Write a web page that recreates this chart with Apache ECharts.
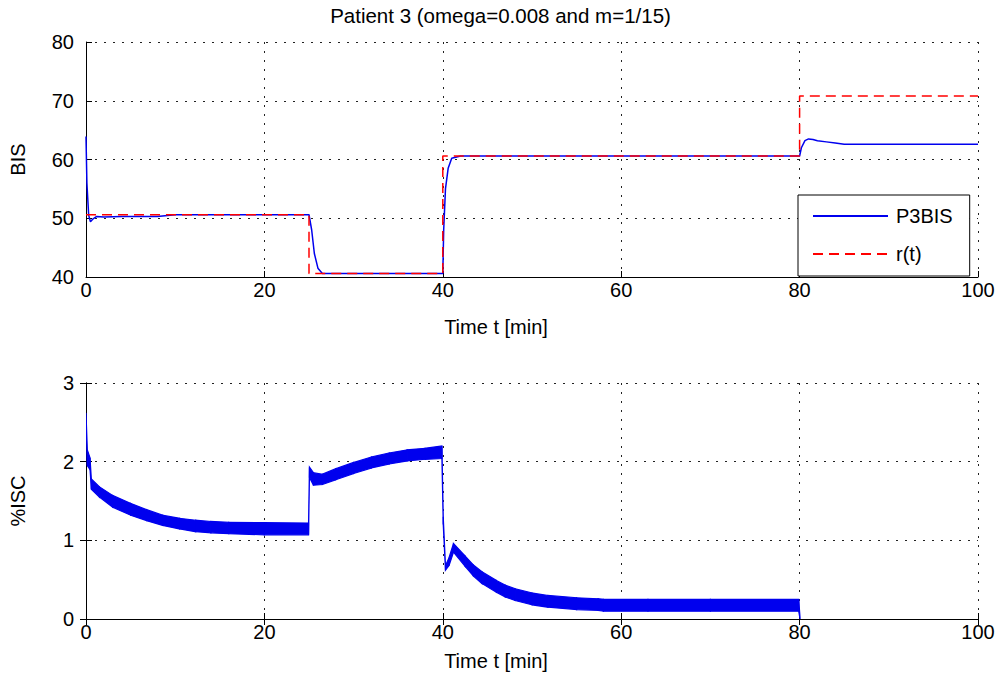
<!DOCTYPE html>
<html>
<head>
<meta charset="utf-8">
<script src="https://cdn.jsdelivr.net/npm/echarts@6/dist/echarts.min.js"></script>
<style>
  html, body { margin: 0; padding: 0; background: #ffffff; }
  #chart { width: 1001px; height: 692px; }
</style>
</head>
<body>
<div id="chart"></div>
<script>
// --- data ---
var xTicks = [0, 20, 40, 60, 80, 100];

// BIS response (blue)
var bisT = [0, 0.1, 0.3, 0.5, 0.8, 1.2, 2, 4, 8, 10, 25, 25.3, 25.6, 26, 26.5, 40, 40.1, 40.3, 40.6, 41, 42, 80, 80.2, 80.6, 81, 81.5, 82, 83, 84, 85, 100];
var bisV = [63.9, 56, 50.5, 49.4, 49.9, 50.3, 50.2, 50.3, 50.3, 50.6, 50.6, 48, 44, 41.5, 40.6, 40.6, 48, 55, 58.5, 60.2, 60.6, 60.6, 62, 63.2, 63.5, 63.4, 63.2, 63.0, 62.8, 62.6, 62.6];

// reference r(t) (red dashed)
var refT = [0, 25, 25, 40, 40, 80, 80, 100];
var refV = [50.6, 50.6, 40.6, 40.6, 60.6, 60.6, 70.8, 70.8];

// %ISC oscillating band: lower and upper envelope
var iscT  = [0, 0.15, 0.45, 0.6, 1.5, 3, 5, 6.8, 8.6, 10.5, 12.3, 14, 16, 20, 24.95, 25.05, 25.5, 26.5, 28, 30, 32, 34, 36, 38, 39.9, 40.05, 40.3, 40.7, 41.2, 42.5, 43.4, 44.4, 46, 47, 48.1, 50, 51.8, 55, 57.4, 58, 63, 70, 79.9, 80.05];
var iscLo = [2.55, 1.95, 1.9, 1.65, 1.55, 1.42, 1.32, 1.25, 1.19, 1.145, 1.11, 1.095, 1.085, 1.07, 1.07, 1.8, 1.70, 1.71, 1.77, 1.85, 1.92, 1.97, 2.01, 2.03, 2.04, 1.2, 0.62, 0.68, 0.85, 0.67, 0.55, 0.45, 0.34, 0.28, 0.235, 0.18, 0.15, 0.12, 0.11, 0.1, 0.1, 0.1, 0.1, 0];
var iscHi = [2.62, 2.15, 2.05, 1.78, 1.68, 1.57, 1.47, 1.39, 1.32, 1.28, 1.255, 1.24, 1.23, 1.225, 1.22, 1.93, 1.86, 1.84, 1.91, 1.99, 2.06, 2.11, 2.15, 2.17, 2.2, 1.3, 0.68, 0.78, 0.96, 0.80, 0.69, 0.60, 0.49, 0.43, 0.385, 0.33, 0.30, 0.27, 0.257, 0.25, 0.25, 0.25, 0.25, 0.02];

var blue = '#0000ee';
var red = '#ff0000';
var font = "'Liberation Sans', Arial, sans-serif";
var fs = 20;
var dots = { color: '#222', width: 1, type: [2, 7] };

function pairs(t, v) {
    return t.map(function(x, i) { return [x, v[i]]; });
}

var chart = echarts.init(document.getElementById('chart'), null, { renderer: 'svg' });

var labelStyle = { color: '#000', fontSize: fs, fontFamily: font };
var tickStyle = { show: true, inside: true, length: 6, lineStyle: { color: '#000' } };
var axisLineStyle = { show: true, lineStyle: { color: '#000', width: 1 } };

function xAxisFor(grid, name, gap, mirror) {
    if (mirror) {
        return {
            type: 'value', gridIndex: grid, position: 'top', min: 0, max: 100, interval: 20,
            axisLine: axisLineStyle, axisTick: tickStyle,
            axisLabel: { show: false }, splitLine: { show: false }
        };
    }
    return {
        type: 'value', gridIndex: grid, min: 0, max: 100, interval: 20,
        name: name, nameLocation: 'middle', nameGap: gap,
        nameTextStyle: { color: '#000', fontSize: fs, fontFamily: font, padding: [0, 72, 0, 0] },
        axisLine: axisLineStyle, axisTick: tickStyle,
        axisLabel: Object.assign({ margin: 3 }, labelStyle),
        splitLine: { show: true, lineStyle: dots }
    };
}

function yAxisFor(grid, name, min, max, interval, mirror) {
    if (mirror) {
        return {
            type: 'value', gridIndex: grid, position: 'right', min: min, max: max, interval: interval,
            axisLine: axisLineStyle, axisTick: tickStyle,
            axisLabel: { show: false }, splitLine: { show: false }
        };
    }
    return {
        type: 'value', gridIndex: grid, min: min, max: max, interval: interval,
        name: name, nameLocation: 'middle', nameGap: 58, nameRotate: 90,
        nameTextStyle: { color: '#000', fontSize: fs, fontFamily: font },
        axisLine: axisLineStyle, axisTick: tickStyle,
        axisLabel: Object.assign({ margin: 12 }, labelStyle),
        splitLine: { show: true, lineStyle: dots }
    };
}

// band: one quad from each row to the next, through the axis scales
function renderBand(params, api) {
    var i = params.dataIndexInside;
    if (i >= params.dataInsideLength - 1) return null;
    var a0 = api.coord([api.value(0, i), api.value(1, i)]);
    var a1 = api.coord([api.value(0, i + 1), api.value(1, i + 1)]);
    var b1 = api.coord([api.value(0, i + 1), api.value(2, i + 1)]);
    var b0 = api.coord([api.value(0, i), api.value(2, i)]);
    return {
        type: 'polygon',
        shape: { points: [a0, a1, b1, b0] },
        style: { fill: blue, stroke: blue, lineWidth: 1.2 }
    };
}

var option = {
    animation: false,
    backgroundColor: '#ffffff',
    title: {
        text: 'Patient 3 (omega=0.008 and m=1/15)',
        left: 'center', top: 0,
        textStyle: { color: '#000', fontSize: 20.5, fontWeight: 'normal', fontFamily: font }
    },
    legend: {
        data: ['P3BIS', 'r(t)'],
        orient: 'vertical',
        left: 798, top: 195,
        padding: [11, 17, 12, 14],
        itemWidth: 75, itemHeight: 16, itemGap: 18,
        backgroundColor: '#ffffff',
        borderColor: '#000', borderWidth: 1,
        itemStyle: { opacity: 0 },
        textStyle: { color: '#000', fontSize: fs, fontFamily: font, lineHeight: 16, padding: [0, 0, 0, 3] }
    },
    grid: [
        { left: 84, right: 23, top: 42, height: 235 },
        { left: 84, right: 23, top: 383, height: 236 }
    ],
    xAxis: [
        xAxisFor(0, 'Time t [min]', 40, false),
        xAxisFor(1, 'Time t [min]', 32, false),
        xAxisFor(1, '', 0, true)
    ],
    yAxis: [
        yAxisFor(0, 'BIS', 40, 80, 10, false),
        yAxisFor(1, '%ISC', 0, 3, 1, false),
        yAxisFor(1, '', 0, 3, 1, true)
    ],
    series: [
        {
            name: 'P3BIS', type: 'line', xAxisIndex: 0, yAxisIndex: 0,
            data: pairs(bisT, bisV), symbol: 'none',
            lineStyle: { color: blue, width: 1.5 }, itemStyle: { color: blue }
        },
        {
            name: 'r(t)', type: 'line', xAxisIndex: 0, yAxisIndex: 0,
            data: pairs(refT, refV), symbol: 'none',
            lineStyle: { color: red, width: 1.5, type: [10, 6] }, itemStyle: { color: red }
        },
        {
            name: '%ISC', type: 'custom', xAxisIndex: 1, yAxisIndex: 1,
            data: iscT.map(function(t, i) { return [t, iscLo[i], iscHi[i]]; }),
            encode: { x: 0, y: [1, 2] },
            clip: true,
            renderItem: renderBand
        }
    ]
};

chart.setOption(option);
window.addEventListener('resize', function() { chart.resize(); });
</script>
</body>
</html>
